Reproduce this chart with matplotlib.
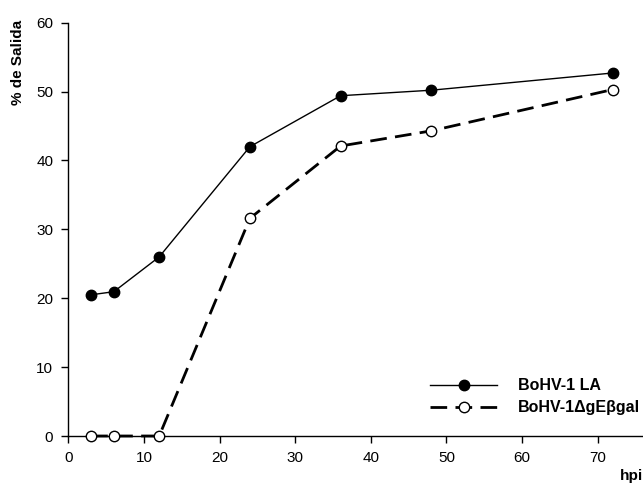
import matplotlib.pyplot as plt

plt.rcParams["font.family"] = ["Liberation Sans", "DejaVu Sans"]

hpi = [3, 6, 12, 24, 36, 48, 72]
la_vals = [20.5, 20.95, 26.0, 42.0, 49.4, 50.2, 52.7]
ge_vals = [0, 0, 0, 31.6, 42.1, 44.3, 50.3]
x_ticks = [0, 10, 20, 30, 40, 50, 60, 70]
y_ticks = [0, 10, 20, 30, 40, 50, 60]

fig = plt.figure(figsize=(6.43, 4.83), dpi=100)
ax = fig.add_axes([0.1065, 0.0973, 0.8935, 0.8557])

ax.plot(hpi, la_vals, c="black", lw=1.0, marker="o", ms=7.5,
        mfc="black", mec="black", label="BoHV-1 LA", zorder=3)
ax.plot(hpi, ge_vals, c="black", lw=2.0, dashes=(6, 3), marker="o", ms=7.5,
        mfc="white", mec="black", mew=1.0, label="BoHV-1\u0394gE\u03b2gal",
        zorder=3, clip_on=False)

ax.set_xlim(0, 76)
ax.set_ylim(0, 60)
ax.set_xticks(x_ticks)
ax.set_yticks(y_ticks)
ax.tick_params(direction="out", length=5, width=1, labelsize=11, pad=6)

for s in ["top", "right"]:
    ax.spines[s].set_visible(False)
for s in ["left", "bottom"]:
    ax.spines[s].set_linewidth(1.0)

fig.text(18 / 643, 1 - 62 / 483, "% de Salida", rotation=90, ha="center",
         va="center", fontsize=11, fontweight="bold")
fig.text(1.0, 1 - 476 / 483, "hpi", ha="right", va="center",
         fontsize=11, fontweight="bold")

leg = ax.legend(loc="lower right", bbox_to_anchor=(1.02, 0.015), frameon=False,
                handlelength=4.2, handletextpad=1.3, labelspacing=0.45,
                prop={"weight": "bold", "size": 11.5})

fig.savefig("out.png", dpi=100)
